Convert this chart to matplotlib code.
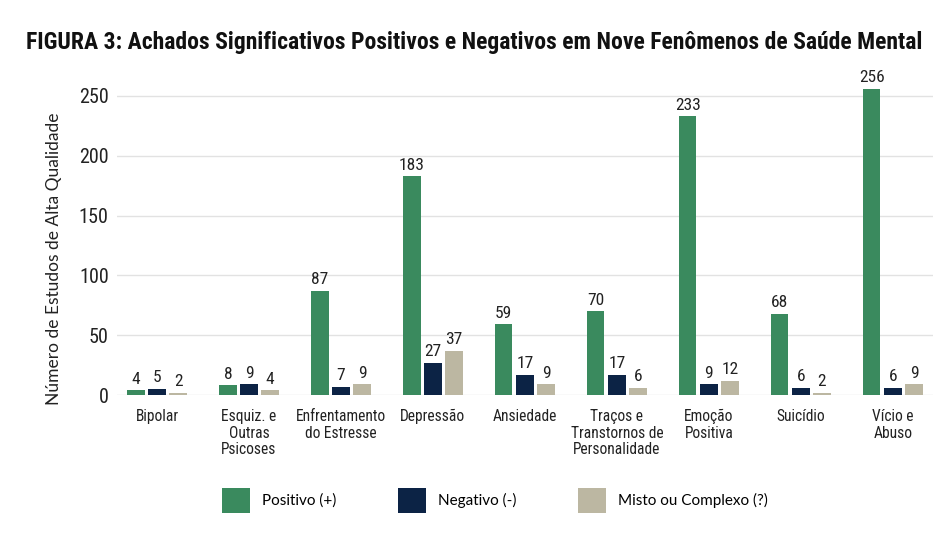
import matplotlib
matplotlib.use("Agg")
import matplotlib.pyplot as plt
import numpy as np

categories = ["Bipolar", "Esquiz. e\nOutras\nPsicoses", "Enfrentamento\ndo Estresse",
              "Depressão", "Ansiedade", "Traços e\nTranstornos de\nPersonalidade",
              "Emoção\nPositiva", "Suicídio", "Vício e\nAbuso"]
positivo = [4, 8, 87, 183, 59, 70, 233, 68, 256]
negativo = [5, 9, 7, 27, 17, 17, 9, 6, 6]
misto = [2, 4, 9, 37, 9, 6, 12, 2, 9]
series_names = ["Positivo (+)", "Negativo (-)", "Misto ou Complexo (?)"]
colors = ["#3a8a5e", "#0c2345", "#bcb7a2"]

narrow = ["Roboto Condensed", "DejaVu Sans"]
plain = ["Lato", "DejaVu Sans"]

fig = plt.figure(figsize=(9.48, 5.42), dpi=100)
ax = fig.add_axes([0.1234, 0.2712, 0.8606, 0.5849])

x = np.arange(len(categories))
w = 0.19
off = 0.23
for i, (vals, name, c) in enumerate(zip([positivo, negativo, misto], series_names, colors)):
    bars = ax.bar(x + (i - 1) * off, vals, w, color=c, label=name, zorder=3)
    for b, v in zip(bars, vals):
        ax.text(b.get_x() + b.get_width() / 2, b.get_height() + 3, str(v),
                ha="center", va="bottom", fontsize=12.5, family=narrow, color="#222222")

ax.set_xlim(-0.435, 8.435)
ax.set_ylim(0, 265)
ax.set_yticks([0, 50, 100, 150, 200, 250])
ax.grid(axis="y", color="#e2e2e2", linewidth=1, zorder=0)
for s in ax.spines.values():
    s.set_visible(False)
ax.tick_params(length=0)
ax.tick_params(axis="y", pad=6)
ax.tick_params(axis="x", pad=10)
ax.set_xticks(x)
ax.set_xticklabels(categories, fontsize=11.2, family=narrow, color="#222222", linespacing=1.14, va="top")
for t in ax.get_yticklabels():
    t.set_fontsize(14.5)
    t.set_family(narrow)
    t.set_color("#222222")
ax.set_ylabel("Número de Estudos de Alta Qualidade", fontsize=12.5, family=plain, color="#222222")
ax.yaxis.set_label_coords(-0.067, 0.43)

fig.text(0.5, 0.9225, "FIGURA 3: Achados Significativos Positivos e Negativos em Nove Fenômenos de Saúde Mental",
         ha="center", va="center", fontsize=17, fontweight="bold", family=narrow, color="#111111")

handles, labels = ax.get_legend_handles_labels()
fig.legend(handles, labels, loc="center", bbox_to_anchor=(0.522, 0.077), ncol=3, frameon=False,
           prop={"family": plain, "size": 11}, handlelength=1.83, handleheight=2.16,
           handletextpad=0.8, columnspacing=4.0)

fig.savefig("out.png", dpi=100)
